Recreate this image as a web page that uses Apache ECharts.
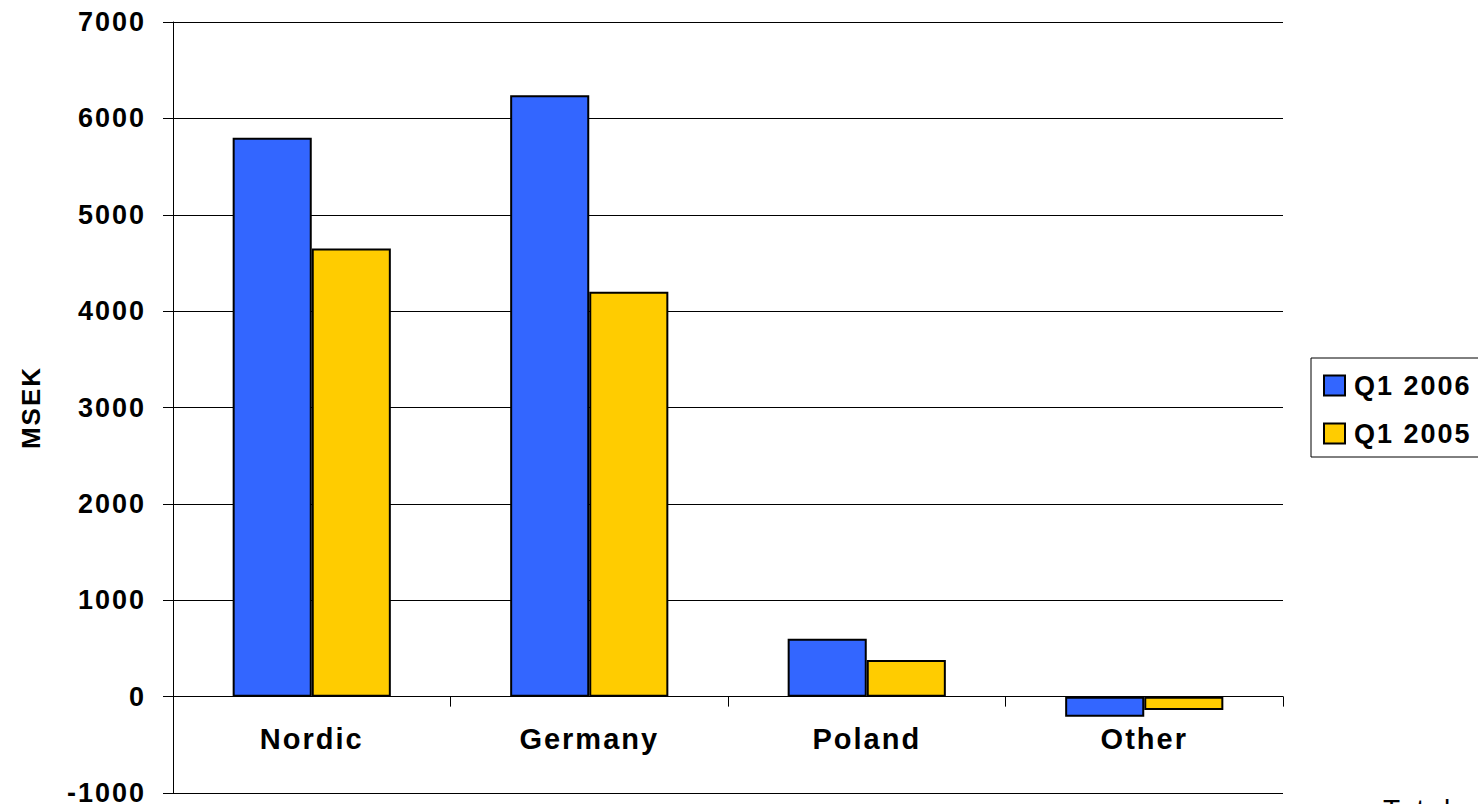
<!DOCTYPE html>
<html>
<head>
<meta charset="utf-8">
<script src="https://cdn.jsdelivr.net/npm/echarts@6/dist/echarts.min.js"></script>
<style>
html,body{margin:0;padding:0;background:#fff;}
#main{width:1478px;height:804px;}
#main svg text{letter-spacing:2px;}
</style>
</head>
<body>
<div id="main"></div>
<script>
const categories = ['Nordic', 'Germany', 'Poland', 'Other'];
const seriesNames = ['Q1 2006', 'Q1 2005'];
const q1_2006 = [5800, 6240, 600, -210];
const q1_2005 = [4650, 4200, 380, -140];
const yTicks = {min: -1000, max: 7000, interval: 1000};

const FONT = '"Liberation Sans", Arial, sans-serif';
const GRID_TOP = 22, GRID_BOTTOM = 11, H = 804;
const plotH = H - GRID_TOP - GRID_BOTTOM;
// distance from the plot bottom (min) up to the zero line, for placing the category axis at zero
const zeroOffset = -plotH * (0 - yTicks.min) / (yTicks.max - yTicks.min);

const chart = echarts.init(document.getElementById('main'), null, {renderer: 'svg'});
chart.setOption({
  animation: false,
  backgroundColor: '#ffffff',
  grid: {left: 173, right: 195, top: GRID_TOP, bottom: GRID_BOTTOM, containLabel: false, outerBoundsMode: 'none'},
  legend: {
    orient: 'vertical',
    left: 1311, top: 358,
    data: seriesNames,
    icon: 'rect',
    itemWidth: 21, itemHeight: 20,
    itemGap: 21,
    borderColor: '#000', borderWidth: 1,
    padding: [14, 60, 10, 12],
    itemStyle: {borderColor: '#000', borderWidth: 2},
    textStyle: {fontFamily: FONT, fontWeight: 'bold', fontSize: 27, color: '#000', padding: [0, 0, 0, 4]}
  },
  xAxis: {
    type: 'category',
    data: categories,
    position: 'bottom',
    offset: zeroOffset,
    axisLine: {onZero: false, lineStyle: {color: '#000', width: 1}},
    axisTick: {show: true, length: 10, inside: false, lineStyle: {color: '#000'}},
    axisLabel: {margin: 28, fontFamily: FONT, fontWeight: 'bold', fontSize: 29, color: '#000'},
    splitLine: {show: false}
  },
  yAxis: {
    type: 'value',
    min: yTicks.min, max: yTicks.max, interval: yTicks.interval,
    name: 'MSEK',
    nameLocation: 'middle',
    nameGap: 129,
    nameRotate: 90,
    nameTextStyle: {fontFamily: FONT, fontWeight: 'bold', fontSize: 26, color: '#000'},
    axisLine: {show: true, lineStyle: {color: '#000', width: 1}},
    axisTick: {show: true, length: 10, lineStyle: {color: '#000'}},
    axisLabel: {margin: 27, fontFamily: FONT, fontWeight: 'bold', fontSize: 27, lineHeight: 20, color: '#000',
      padding: [0, 0, 4, 0], formatter: v => String(v)},
    splitLine: {show: true, lineStyle: {color: '#000', width: 1}}
  },
  series: [
    {
      name: seriesNames[0], type: 'bar', data: q1_2006,
      barGap: '0%', barCategoryGap: '43%',
      itemStyle: {color: '#3366ff', borderColor: '#000', borderWidth: 2}
    },
    {
      name: seriesNames[1], type: 'bar', data: q1_2005,
      barGap: '0%', barCategoryGap: '43%',
      itemStyle: {color: '#ffcc00', borderColor: '#000', borderWidth: 2}
    }
  ],
  graphic: [{
    type: 'text', left: 1383, top: 795,
    style: {text: 'Total', fontFamily: FONT, fontSize: 28, fill: '#000'}
  }]
});
</script>
</body>
</html>
